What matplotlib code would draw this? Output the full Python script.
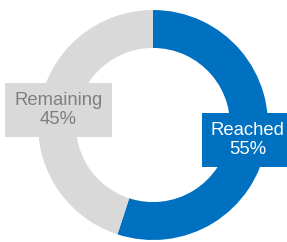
import matplotlib.pyplot as plt
import numpy as np

plt.rcParams['font.family'] = ['Liberation Sans', 'DejaVu Sans']

categorias = ["Reached", "Remaining"]
valores = [55, 45]
colores = ["#0070C0", "#D9D9D9"]
colores_texto = ["white", "#7F7F7F"]

fig = plt.figure(figsize=(2.87, 2.42), dpi=100)
# centro ~ (153, 125) px, radio ~115 px
ax = fig.add_axes([(153 - 115) / 287, (242 - 125 - 115) / 242, 230 / 287, 230 / 242])

wedges, _ = ax.pie(valores, colors=colores, startangle=90, counterclock=False,
                   radius=1, wedgeprops=dict(width=0.33, edgecolor="none"))

for w, cat, val, fondo, tc in zip(wedges, categorias, valores, colores, colores_texto):
    ang = np.deg2rad((w.theta1 + w.theta2) / 2)
    r = 1 - 0.33 / 2
    ax.text(r * np.cos(ang), r * np.sin(ang), f"{cat}\n{val}%",
            ha="center", va="center", fontsize=13.3, color=tc, linespacing=1.1,
            bbox=dict(boxstyle="square,pad=0.5", facecolor=fondo, edgecolor="none"),
            clip_on=False)

ax.set_xlim(-1, 1)
ax.set_ylim(-1, 1)
ax.axis("off")

fig.savefig("out.png", dpi=100)
